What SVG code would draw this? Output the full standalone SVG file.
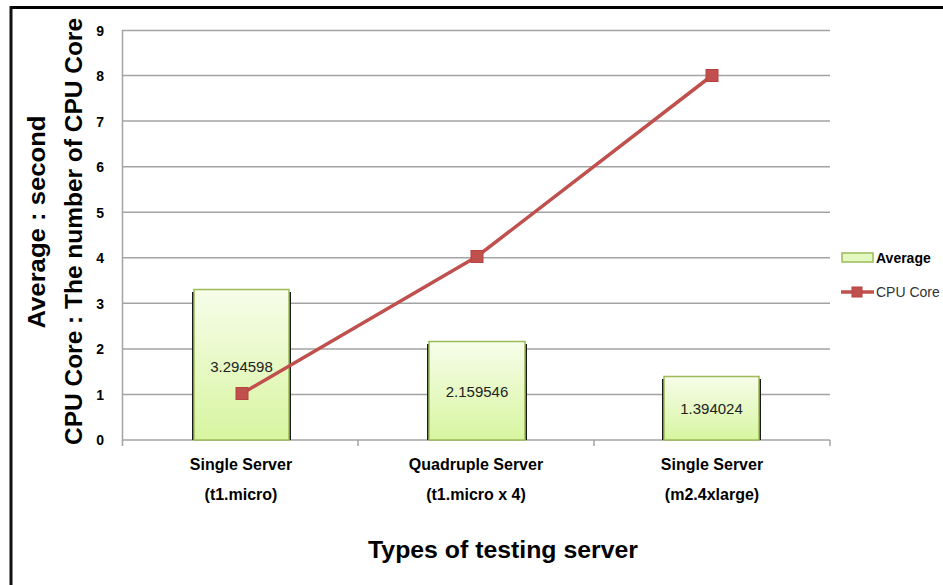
<svg xmlns="http://www.w3.org/2000/svg" width="943" height="585" viewBox="0 0 943 585">
<defs>
<linearGradient id="barGrad" x1="0" y1="0" x2="0" y2="1">
<stop offset="0" stop-color="#f7fdea"/>
<stop offset="1" stop-color="#d7f5a0"/>
</linearGradient>
<style>
.grid{stroke:#a3a3a3;stroke-width:1.5;fill:none}
.axis{stroke:#a3a3a3;stroke-width:1.5;fill:none}
.shadow{fill:#1a1a1a}
.bar{fill:url(#barGrad);stroke:#9bbb59;stroke-width:1.5}
.val{font-family:"Liberation Sans",Arial,sans-serif;font-size:15px;fill:#222;text-anchor:middle}
.tick{font-family:"Liberation Sans",Arial,sans-serif;font-size:14px;font-weight:bold;fill:#000;text-anchor:end}
.cat{font-family:"Liberation Sans",Arial,sans-serif;font-size:16px;font-weight:bold;fill:#000;text-anchor:middle}
.ytitle{font-family:"Liberation Sans",Arial,sans-serif;font-size:24px;font-weight:bold;fill:#000;text-anchor:middle}
.series{stroke:#c0504d;stroke-width:3.5;fill:none;stroke-linejoin:round}
.mark{fill:#c0504d;stroke:#b8403d;stroke-width:1}
</style>
</defs>
<rect x="0" y="0" width="943" height="585" fill="#fff"/>
<g id="frame">
<line x1="11" y1="7.5" x2="943" y2="7.5" stroke="#000" stroke-width="3"/>
<line x1="11" y1="6" x2="11" y2="585" stroke="#111" stroke-width="3"/>
</g>
<g id="gridlines">
<line class="grid" x1="122" y1="394.4" x2="830" y2="394.4"/>
<line class="grid" x1="122" y1="348.9" x2="830" y2="348.9"/>
<line class="grid" x1="122" y1="303.3" x2="830" y2="303.3"/>
<line class="grid" x1="122" y1="257.8" x2="830" y2="257.8"/>
<line class="grid" x1="122" y1="212.2" x2="830" y2="212.2"/>
<line class="grid" x1="122" y1="166.7" x2="830" y2="166.7"/>
<line class="grid" x1="122" y1="121.1" x2="830" y2="121.1"/>
<line class="grid" x1="122" y1="75.6" x2="830" y2="75.6"/>
<line class="grid" x1="122" y1="30.5" x2="830" y2="30.5"/>
</g>
<g id="axes">
<line class="axis" x1="122.5" y1="30" x2="122.5" y2="441"/>
<line class="axis" x1="122" y1="440" x2="830" y2="440"/>
<line class="axis" x1="358" y1="440" x2="358" y2="446"/>
<line class="axis" x1="594" y1="440" x2="594" y2="446"/>
<line class="axis" x1="830" y1="440" x2="830" y2="446"/>
<line class="axis" x1="122.5" y1="440" x2="122.5" y2="446"/>
</g>
<g id="y-ticks">
<text class="tick" x="104" y="445">0</text>
<text class="tick" x="104" y="399.5">1</text>
<text class="tick" x="104" y="354">2</text>
<text class="tick" x="104" y="308.5">3</text>
<text class="tick" x="104" y="263">4</text>
<text class="tick" x="104" y="217.5">5</text>
<text class="tick" x="104" y="172">6</text>
<text class="tick" x="104" y="126.5">7</text>
<text class="tick" x="104" y="81">8</text>
<text class="tick" x="104" y="36">9</text>
</g>
<g id="bar1">
<rect class="shadow" x="192" y="292" width="99" height="148"/>
<rect class="bar" x="194" y="289.5" width="95" height="150.5"/>
<text class="val" x="241.5" y="372">3.294598</text>
</g>
<g id="bar2">
<rect class="shadow" x="427" y="344" width="100" height="96"/>
<rect class="bar" x="429" y="341.5" width="96" height="98.5"/>
<text class="val" x="477" y="397">2.159546</text>
</g>
<g id="bar3">
<rect class="shadow" x="662" y="379" width="99" height="61"/>
<rect class="bar" x="664" y="376.5" width="95" height="63.5"/>
<text class="val" x="711.5" y="414">1.394024</text>
</g>
<g id="connectors">
<polyline class="series" points="242,393.5 477,256.5 712,75.5"/>
</g>
<g id="markers">
<rect class="mark" x="236" y="387.5" width="12" height="12"/>
<rect class="mark" x="471" y="250.5" width="12" height="12"/>
<rect class="mark" x="706" y="69.5" width="12" height="12"/>
</g>
<g id="x-labels">
<text class="cat" x="241" y="470">Single Server</text>
<text class="cat" x="241" y="500">(t1.micro)</text>
<text class="cat" x="476" y="470">Quadruple Server</text>
<text class="cat" x="476" y="500">(t1.micro x 4)</text>
<text class="cat" x="712" y="470">Single Server</text>
<text class="cat" x="712" y="500">(m2.4xlarge)</text>
</g>
<g id="x-title">
<text x="503" y="558" font-family="'Liberation Sans',Arial,sans-serif" font-size="23" font-weight="bold" text-anchor="middle" textLength="270" lengthAdjust="spacingAndGlyphs">Types of testing server</text>
</g>
<g id="y-title">
<text class="ytitle" x="45" y="222" transform="rotate(-90 45 222)" textLength="213" lengthAdjust="spacingAndGlyphs">Average : second</text>
<text class="ytitle" x="82" y="231.5" transform="rotate(-90 82 231.5)" textLength="427" lengthAdjust="spacingAndGlyphs">CPU Core : The number of CPU Core</text>
</g>
<g id="legend">
<rect x="842" y="253" width="31" height="9" fill="#e3f7c0" stroke="#9bbb59" stroke-width="1.5"/>
<text x="876" y="263" font-family="'Liberation Sans',Arial,sans-serif" font-size="14" font-weight="bold" fill="#000">Average</text>
<line x1="841" y1="292" x2="874" y2="292" stroke="#c0504d" stroke-width="3.5"/>
<rect class="mark" x="852" y="287" width="10" height="10"/>
<text x="876" y="297" font-family="'Liberation Sans',Arial,sans-serif" font-size="14" fill="#333">CPU Core</text>
</g>
</svg>
